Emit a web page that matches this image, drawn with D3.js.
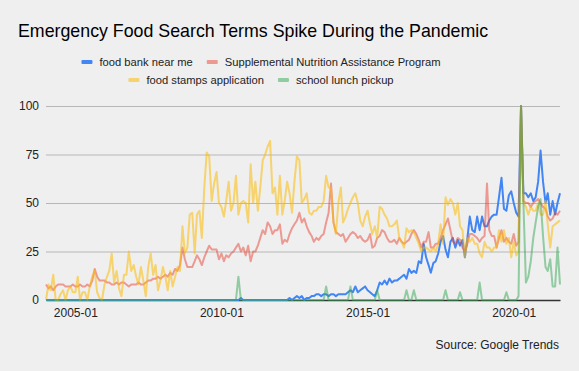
<!DOCTYPE html>
<html>
<head>
<meta charset="utf-8">
<script src="https://cdn.jsdelivr.net/npm/d3@7"></script>
<style>
  body { margin: 0; background: #efefef; }
  svg { display: block; font-family: "Liberation Sans", Arial, sans-serif; }
</style>
</head>
<body>
<svg id="chart" width="579" height="371"></svg>
<script>
// monthly points, 2004-01 .. 2021-08
var months = d3.timeMonth.range(new Date(2004, 0, 1), new Date(2021, 8, 1));

var seriesNames = ["food bank near me", "Supplemental Nutrition Assistance Program",
  "food stamps application", "school lunch pickup"];

var foodBank = [
  0,0,0,0,0,0,0,0,0,0,0,0,
  0,0,0,0,0,0,0,0,0,0,0,0,
  0,0,0,0,0,0,0,0,0,0,0,0,
  0,0,0,0,0,0,0,0,0,0,0,0,
  0,0,0,0,0,0,0,0,0,0,0,0,
  0,0,0,0,0,0,0,0,0,0,0,0,
  0,0,0,0,0,0,0,0,1,0,0,0,
  0,0,0,0,0,0,0,0,0,0,0,0,
  0,0,0,0,1,0,1,2,1,2,0,1,
  1,2,2,3,3,2,3,3,2,3,3,2,
  3,3,3,3,4,5,4,7,4,5,6,7,
  5,4,3,2,5,9,8,10,8,11,9,10,
  10,11,12,13,11,16,14,15,14,20,19,29,
  22,18,14,19,20,24,30,33,26,22,30,32,
  27,31,28,31,22,32,43,36,35,43,36,43,
  38,38,41,43,44,44,53,63,47,46,54,56,
  50,45,43,100,55,55,53,55,51,53,61,77,
  61,50,55,44,51,44,50,55
];

var snap = [
  8,6,7,5,7,8,8,8,7,7,7,8,
  7,7,8,7,7,8,7,10,16,12,10,10,
  10,9,9,8,8,9,8,9,9,8,7,8,
  8,8,9,8,8,9,10,10,11,11,12,11,
  12,13,12,14,13,16,15,18,27,21,17,17,
  17,20,23,21,18,22,25,28,26,26,26,21,
  24,20,23,22,24,25,27,29,25,27,23,28,
  20,25,25,28,32,36,34,40,38,34,36,36,
  39,29,31,30,34,37,39,41,45,40,42,38,
  35,33,30,32,31,33,34,40,45,60,40,35,
  34,33,34,30,32,34,35,34,32,33,31,30,
  31,34,27,28,32,33,36,35,32,30,30,31,
  29,32,30,29,30,31,34,36,34,31,27,30,
  30,35,27,27,29,29,32,36,39,42,36,30,
  29,32,31,27,25,29,34,34,33,32,30,32,
  33,60,36,33,33,27,32,36,30,32,30,29,
  34,28,30,100,51,50,50,48,50,51,52,50,
  48,47,43,41,42,45,44,46
];

var foodStamps = [
  0,8,5,13,0,0,3,5,0,5,7,4,
  4,12,0,4,4,0,7,12,15,4,1,0,
  8,12,15,24,9,15,6,2,13,13,25,15,
  18,12,8,17,10,2,17,24,13,18,5,10,
  17,12,5,15,7,12,17,15,38,24,27,44,
  45,24,44,46,32,58,76,74,51,60,66,50,
  48,43,51,61,46,50,64,44,50,51,50,40,
  70,50,61,46,58,72,75,79,82,55,58,44,
  64,44,51,61,55,45,61,74,72,50,52,55,
  45,44,46,46,48,48,51,64,58,58,40,34,
  50,58,40,43,47,50,53,55,50,41,38,43,
  46,39,34,38,32,48,47,44,42,38,38,39,
  41,32,30,27,37,35,36,35,32,29,25,27,
  27,26,25,27,25,29,39,29,53,49,52,50,
  44,50,38,36,22,32,30,32,29,29,24,22,
  30,27,27,25,27,27,36,30,36,29,32,22,
  30,23,25,100,50,48,44,48,46,46,50,44,
  44,51,39,27,38,39,40,41
];

var schoolLunch = [
  0,0,0,0,0,0,0,0,0,0,0,0,
  0,0,0,0,0,0,0,0,0,0,0,0,
  0,0,0,0,0,0,0,0,0,0,0,0,
  0,0,0,0,0,0,0,0,0,0,0,0,
  0,0,0,0,0,0,0,0,0,0,0,0,
  0,0,0,0,0,0,0,0,0,0,0,0,
  0,0,0,0,0,0,0,12,0,0,0,0,
  0,0,0,0,0,0,0,0,0,0,0,0,
  0,0,0,0,0,0,0,0,0,0,0,0,
  0,0,0,0,0,0,0,7,0,0,0,0,
  0,0,0,0,0,7,0,0,0,0,0,0,
  0,0,0,0,5,0,0,0,0,0,0,0,
  0,0,0,0,5,0,0,5,0,0,0,0,
  0,0,0,0,0,0,0,0,5,0,0,0,
  0,0,4,0,0,0,0,0,0,0,9,0,
  0,0,0,0,0,0,0,0,0,4,0,0,
  0,0,2,100,50,9,12,20,32,40,48,52,
  33,17,15,21,7,7,27,8
];

var yTicks = [0, 25, 50, 75, 100];
var xTicks = [new Date(2005, 0, 1), new Date(2010, 0, 1), new Date(2015, 0, 1), new Date(2020, 0, 1)];

var colors = ["#4285f4", "#ea4335", "#fbbc04", "#34a853"];
var alphas = [1, 0.5, 0.55, 0.5];
var values = [foodBank, snap, foodStamps, schoolLunch];

var plotLeft = 46, plotRight = 560, plotTop = 106, plotBottom = 300;

var svg = d3.select("#chart");

var x = d3.scaleTime().
domain([months[0], months[months.length - 1]]).
range([plotLeft, plotRight]);

var y = d3.scaleLinear().
domain([0, 100]).
range([plotBottom, plotTop]);

// title
svg.append("text").
attr("x", 18).
attr("y", 37).
attr("font-size", 17.8).
attr("fill", "#000").
text("Emergency Food Search Terms Spike During the Pandemic");

// legend, two centred rows
var rows = [[0, 1], [2, 3]];
var rowY = [62, 80];
rows.forEach(function (row, r) {
  var g = svg.append("g");
  var cx = 0;
  row.forEach(function (k) {
    g.append("rect").
    attr("x", cx).
    attr("y", rowY[r] - 2).
    attr("width", 11).
    attr("height", 4).
    attr("rx", 1).
    attr("fill", colors[k]).
    attr("fill-opacity", alphas[k]);
    var t = g.append("text").
    attr("x", cx + 18).
    attr("y", rowY[r] + 4).
    attr("font-size", 11.2).
    attr("fill", "#222").
    text(seriesNames[k]);
    cx += 18 + t.node().getComputedTextLength() + 14;
  });
  var w = cx - 14;
  g.attr("transform", "translate(" + (261 - w / 2) + ",0)");
});

// gridlines
var grid = svg.append("g").
attr("transform", "translate(" + plotLeft + ",0)").
call(d3.axisLeft(y).tickValues(yTicks).tickSize(-(plotRight - plotLeft)).tickFormat(""));
grid.select(".domain").remove();
grid.selectAll("line").attr("stroke", "#b7b7b7");

// y labels
var yAxis = svg.append("g").
attr("transform", "translate(" + plotLeft + ",0)").
call(d3.axisLeft(y).tickValues(yTicks).tickSize(0).tickPadding(7));
yAxis.select(".domain").remove();
yAxis.selectAll("text").
attr("font-size", 12).
attr("font-family", "Liberation Sans, Arial, sans-serif").
attr("fill", "#222");

// x axis
var xAxis = svg.append("g").
attr("transform", "translate(0," + plotBottom + ")").
call(d3.axisBottom(x).tickValues(xTicks).tickSize(0).tickSizeOuter(0).tickPadding(8).
tickFormat(d3.timeFormat("%Y-%m")));
xAxis.select(".domain").attr("stroke", "#333").attr("stroke-width", 1.3);
xAxis.selectAll("text").
attr("font-size", 12).
attr("font-family", "Liberation Sans, Arial, sans-serif").
attr("fill", "#222");

// series
var line = d3.line().
x(function (d, i) {return x(months[i]);}).
y(function (d) {return y(d);});

values.forEach(function (vals, k) {
  svg.append("path").
  datum(vals).
  attr("fill", "none").
  attr("stroke", colors[k]).
  attr("stroke-opacity", alphas[k]).
  attr("stroke-width", 2).
  attr("stroke-linejoin", "round").
  attr("d", line);
});

// source note
svg.append("text").
attr("x", 559).
attr("y", 349).
attr("text-anchor", "end").
attr("font-size", 12).
attr("fill", "#222").
text("Source: Google Trends");
</script>
</body>
</html>
